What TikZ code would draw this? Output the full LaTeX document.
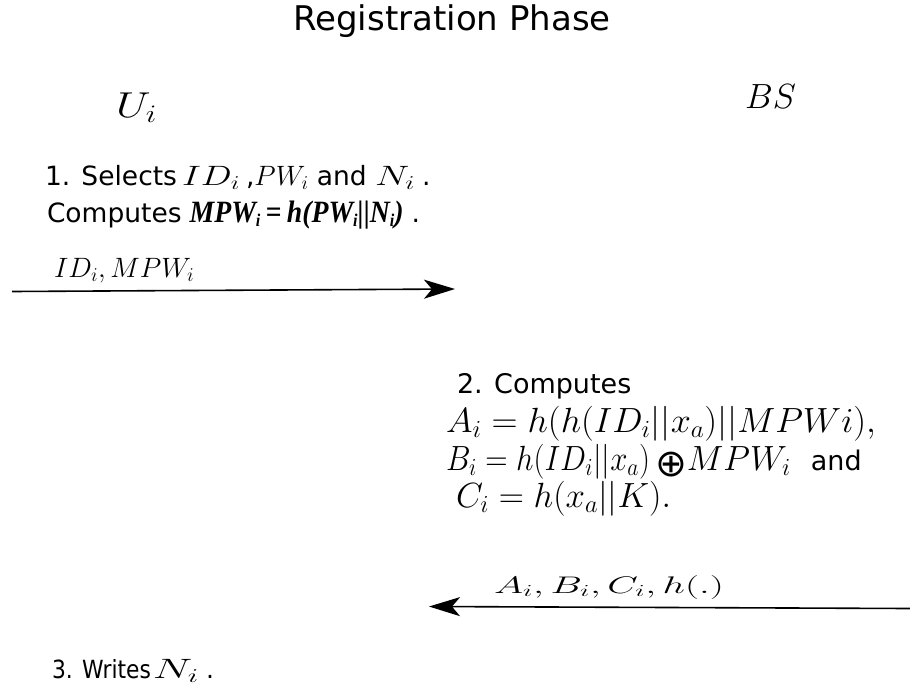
\RequirePackage{fix-cm}
\documentclass[tikz,border=0pt]{standalone}
\usepackage{amsmath}
\usepackage{graphicx}
\usepackage{fontspec}
\setmainfont{DejaVu Sans}
\newfontfamily\tbf{Liberation Serif}
\usetikzlibrary{arrows.meta}
\newcommand{\fs}[1]{\fontsize{#1}{#1}\selectfont}
\newcommand{\sbi}[1]{\raisebox{-0.35ex}{\fontsize{18}{18}\selectfont #1}}
\newcommand{\wx}[2]{\resizebox{#1pt}{\height}{#2}}
\tikzset{
  txt/.style={anchor=base west, inner sep=0pt, outer sep=0pt},
  msg/.style={line width=1.6pt, -{Stealth[length=31pt,width=19pt,inset=8pt]}},
}
\begin{document}
\begin{tikzpicture}[x=1pt,y=-1pt]
\useasboundingbox (0,0) rectangle (910,691);
\node[anchor=base, inner sep=0pt] (title) at (452,30) {\fs{34}Registration Phase};
\node[txt] (ui) at (116,117) {\fs{36}\wx{41}{$U_i$}};
\node[txt] (bs) at (745,108) {\fs{35}$BS$};
\node[txt] (s1a) at (45,185) {\fs{26.5}1. Selects\hspace{5pt}\wx{58}{\fs{28}$ID_i$}\hspace{6pt},\wx{54}{\fs{28}$PW_i$} and \wx{40}{\fs{28}$N_i$}\hspace{7pt}.};
\node[txt] (s1b) at (47,222) {\fs{26.5}Computes\hspace{8pt}\wx{214}{\tbf\bfseries\itshape\fs{31}MPW\sbi{i}\hspace{6pt}{\upshape=}\hspace{6pt}h(PW\sbi{i}||N\sbi{i})}\hspace{8pt}.};
\node[txt] (l1) at (54,277) {\fs{28}$ID_i, MPW_i$};
\coordinate (a1s) at (12,291.5);
\coordinate (a1e) at (455,289);
\draw[msg] (a1s) -- (a1e);
\node[txt] (s2a) at (457,393) {\fs{27}2. Computes};
\node[txt] (s2b) at (446,432) {\fs{35}\wx{430}{$A_i = h(h(ID_i||x_a)||MPWi),$}};
\node[txt] (s2c) at (446,470) {\fs{35}\wx{204}{$B_i = h(ID_i||x_a)$}\hspace{5pt}\raisebox{-6pt}{\fs{38}⊕}\hspace{0pt}\wx{104}{$MPW_i$}\hspace{20pt}{\fs{27}and}};
\node[txt] (s2d) at (456,507) {\fs{35}\wx{215}{$C_i = h(x_a||K).$}};
\node[txt] (l2) at (494,593) {\fs{24}\wx{230}{$A_i, B_i, C_i, h(.)$}};
\coordinate (a2s) at (910,608.5);
\coordinate (a2e) at (429,606.5);
\draw[msg] (a2s) -- (a2e);
\node[txt] (s3) at (52,678) {\fs{25}\wx{99}{3. Writes}\hspace{2pt}\wx{46}{\fs{28}$N_i$}\hspace{7pt}.};
\end{tikzpicture}
\end{document}
